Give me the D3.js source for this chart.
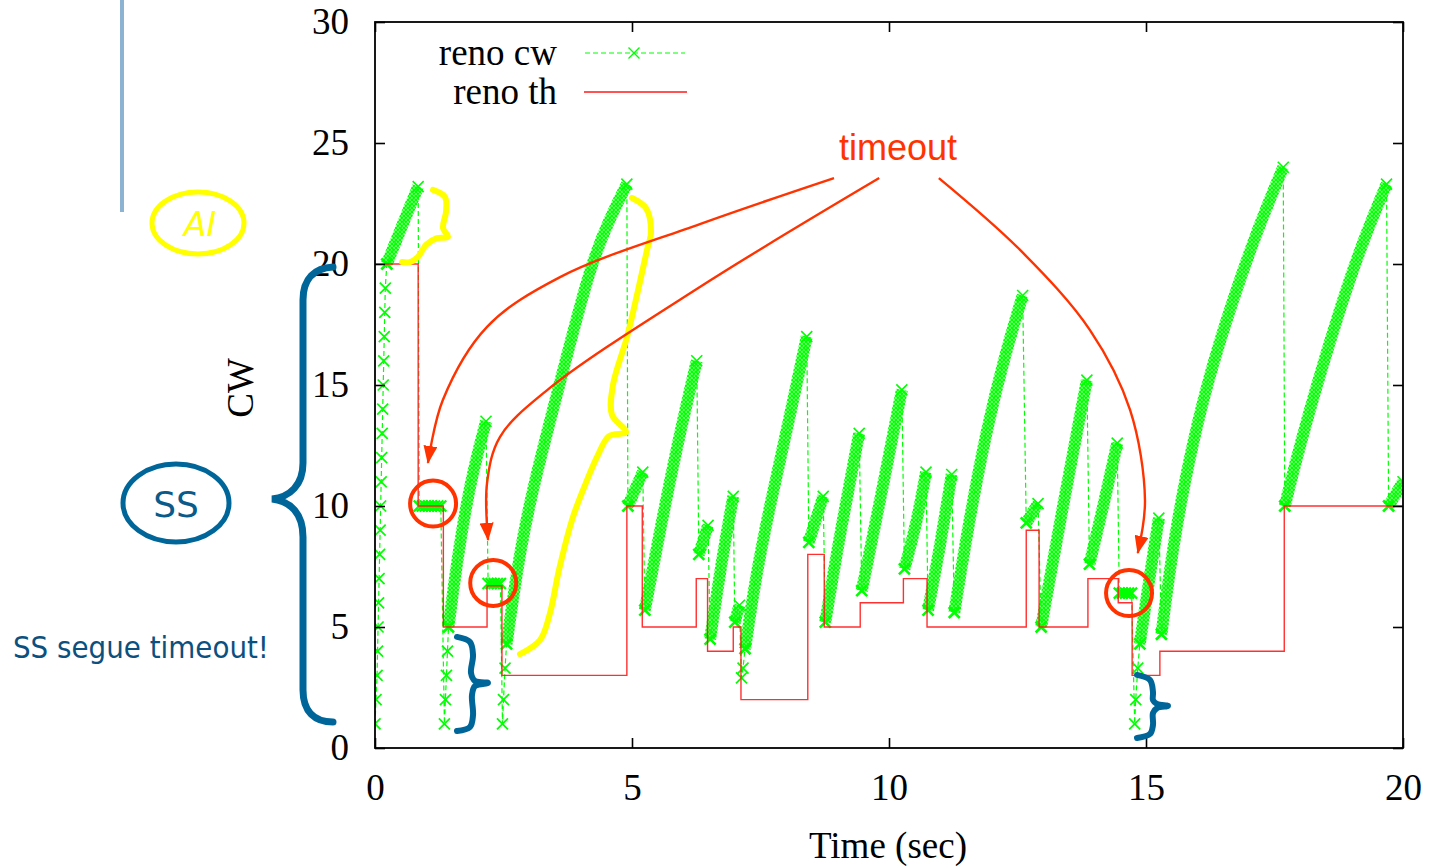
<!DOCTYPE html>
<html>
<head>
<meta charset="utf-8">
<script src="https://cdn.jsdelivr.net/npm/d3@7"></script>
<style>
  html, body { margin: 0; padding: 0; background: #fff; }
  svg { display: block; }
</style>
</head>
<body>
<svg id="chart" width="1431" height="866"></svg>
<script>
// TCP Reno: congestion window (cw) and slow-start threshold (th) over a 20 s run.

// cw samples, one run of the trace per line.
// phase: "s" slow-start sample, "f" window held after a loss, "c" congestion avoidance
const cwTime = [
  0, 0.02, 0.04, 0.05, 0.06, 0.07, 0.08, 0.09, 0.10, 0.11, 0.12, 0.13, 0.14, 0.15, 0.16, 0.17, 0.18, 0.19, 0.20,
  0.23, 0.53, 0.84,
  0.86, 0.92, 0.98, 1.04, 1.10, 1.16, 1.22, 1.28,
  1.35, 1.37, 1.39, 1.41,
  1.43, 1.60, 1.85, 2.16,
  2.20, 2.26, 2.32, 2.38, 2.44,
  2.48, 2.50, 2.53,
  2.56, 2.82, 3.11, 3.60, 4.18, 4.55, 4.90,
  4.92, 5.21,
  5.25, 5.60, 5.95, 6.26,
  6.30, 6.48,
  6.52, 6.75, 6.97,
  7.00, 7.09,
  7.13, 7.16,
  7.20, 7.40, 7.70, 8.05, 8.40,
  8.44, 8.72,
  8.76, 9.05, 9.42,
  9.47, 9.89, 10.25,
  10.30, 10.54, 10.72,
  10.76, 11.00, 11.22,
  11.27, 11.55, 11.90, 12.25, 12.60,
  12.67, 12.90,
  12.96, 13.39, 13.85,
  13.90, 14.16, 14.44,
  14.48, 14.54, 14.60, 14.66, 14.72,
  14.78, 14.80, 14.84,
  14.88, 15.05, 15.25,
  15.30, 15.50, 15.80, 16.20, 16.70, 17.20, 17.67,
  17.70, 18.00, 18.60, 19.15, 19.68,
  19.72, 20.00
];
const cwValue = [
  1, 2, 3, 4, 5, 6, 7, 8, 9, 10, 11, 12, 13, 14, 15, 16, 17, 18, 19,
  20, 21.6, 23.2,
  10, 10, 10, 10, 10, 10, 10, 10,
  1, 2, 3, 4,
  5, 7.8, 11.0, 13.5,
  6.8, 6.8, 6.8, 6.8, 6.8,
  1, 2, 3.3,
  4.3, 8.2, 11.1, 15.1, 19.9, 21.8, 23.3,
  10, 11.4,
  5.7, 9.6, 13.2, 16.0,
  8.0, 9.2,
  4.5, 7.8, 10.4,
  5.2, 5.9,
  2.9, 3.3,
  4.1, 7.0, 10.2, 13.5, 17.0,
  8.5, 10.4,
  5.2, 8.9, 13.0,
  6.5, 10.9, 14.8,
  7.4, 9.3, 11.4,
  5.7, 8.4, 11.3,
  5.6, 9.3, 13.2, 16.2, 18.7,
  9.3, 10.1,
  5.0, 10.1, 15.2,
  7.6, 9.9, 12.6,
  6.4, 6.4, 6.4, 6.4, 6.4,
  1, 2, 3.3,
  4.3, 6.8, 9.5,
  4.7, 8.0, 11.6, 15.2, 18.6, 21.6, 24.0,
  10, 12.6, 17.0, 20.6, 23.3,
  10, 11.0
];
const cwPhase = [
  "s","s","s","s","s","s","s","s","s","s","s","s","s","s","s","s","s","s","s",
  "c","c","c",
  "f","f","f","f","f","f","f","f",
  "s","s","s","s",
  "c","c","c","c",
  "f","f","f","f","f",
  "s","s","s",
  "c","c","c","c","c","c","c",
  "c","c",
  "c","c","c","c",
  "c","c",
  "c","c","c",
  "c","c",
  "s","s",
  "c","c","c","c","c",
  "c","c",
  "c","c","c",
  "c","c","c",
  "c","c","c",
  "c","c","c",
  "c","c","c","c","c",
  "c","c",
  "c","c","c",
  "c","c","c",
  "f","f","f","f","f",
  "s","s","s",
  "c","c","c",
  "c","c","c","c","c","c","c",
  "c","c","c","c","c",
  "c","c"
];

// Slow-start threshold: value held from each time until the next one
const thTime  = [0, 0.84, 1.33, 2.18, 2.47, 4.90, 5.20, 6.25, 6.47, 6.97, 7.12, 8.42, 8.74, 9.44, 10.28, 10.74, 12.67, 12.92, 13.87, 14.46, 14.73, 15.27, 17.69, 20];
const thValue = [20, 10, 5, 6.7, 3, 10, 5, 7, 4, 5, 2, 8, 5, 6, 7, 5, 9, 5, 7, 6, 3, 4, 10, 10];

const xTicks = [0, 5, 10, 15, 20];
const yTicks = [0, 5, 10, 15, 20, 25, 30];
const seriesNames = ["reno cw", "reno th"];

// Timeout events that are circled, and the arrows pointing at them
const timeoutMarks = [[1.13, 10.1], [2.30, 6.82], [14.67, 6.4]];
const arrowPaths = [
  [[8.93, 23.55], [6.32, 21.65], [3.60, 19.46], [2.18, 17.40], [1.32, 14.38], [1.03, 11.78]],
  [[9.81, 23.55], [6.32, 19.05], [3.35, 14.79], [2.43, 12.85], [2.18, 10.95], [2.20, 8.60]],
  [[10.97, 23.55], [12.55, 20.58], [13.91, 17.27], [14.69, 13.97], [14.98, 10.25], [14.84, 8.06]]
];
// Braces grouping the additive-increase runs (yellow) and slow-start runs (blue)
const aiBraces = [
  [[1.128, 23.06], [1.362, 22.77], [1.381, 22.15], [1.323, 21.49], [1.420, 21.12], [1.206, 21.07], [0.992, 20.79], [0.837, 20.29], [0.681, 20.08], [0.525, 20.08]],
  [[5.0, 22.73], [5.272, 22.31], [5.370, 21.32], [5.292, 20.58], [5.097, 18.72], [4.903, 16.98], [4.630, 15.0], [4.611, 13.76], [4.883, 13.06],
   [4.553, 12.89], [4.339, 12.11], [4.125, 11.07], [3.852, 9.55], [3.580, 7.36], [3.405, 5.58], [3.210, 4.46], [2.821, 3.88]]
];
const ssBraces = [
  [[1.595, 4.59], [1.848, 4.38], [1.907, 3.84], [1.868, 3.10], [1.946, 2.77], [2.198, 2.69], [1.946, 2.56], [1.887, 2.19], [1.907, 1.36], [1.848, 0.87], [1.595, 0.70]],
  [[14.825, 3.02], [15.078, 2.81], [15.136, 2.31], [15.136, 1.98], [15.214, 1.82], [15.428, 1.74], [15.214, 1.65], [15.136, 1.45], [15.136, 0.95], [15.078, 0.58], [14.825, 0.41]]
];

const GREEN = "#00ff00", RED = "#ff1a1a", NOTE_RED = "#ff3300", YELLOW = "#ffff00", BLUE = "#006699";
const SERIF = "'Liberation Serif', 'Times New Roman', serif";
const SANS = "'Liberation Sans', Arial, sans-serif";

const svg = d3.select("#chart");
svg.append("rect").attr("width", 1431).attr("height", 866).attr("fill", "#fff");

const margin = { left: 375, right: 28, top: 22, bottom: 118 };
const innerW = 1431 - margin.left - margin.right;
const innerH = 866 - margin.top - margin.bottom;
const x = d3.scaleLinear().domain([0, 20]).range([margin.left, margin.left + innerW]);
const y = d3.scaleLinear().domain([0, 30]).range([margin.top + innerH, margin.top]);

const defs = svg.append("defs");
defs.append("clipPath").attr("id", "plotArea")
  .append("rect").attr("x", margin.left).attr("y", margin.top).attr("width", innerW).attr("height", innerH);

// dense x-marks texture for the congestion-avoidance runs
const hatch = defs.append("pattern").attr("id", "xmarks")
  .attr("patternUnits", "userSpaceOnUse").attr("width", 4).attr("height", 4);
hatch.append("path").attr("d", "M0,0L4,4M4,0L0,4M-1,3L1,5M3,-1L5,1")
  .attr("stroke", GREEN).attr("stroke-width", 1.2);

defs.append("marker").attr("id", "arrowHead")
  .attr("viewBox", "0 0 18 14").attr("refX", 17).attr("refY", 7)
  .attr("markerWidth", 18).attr("markerHeight", 14)
  .attr("markerUnits", "userSpaceOnUse").attr("orient", "auto")
  .append("path").attr("d", "M0,0L18,7L0,14Z").attr("fill", NOTE_RED);

const samples = cwTime.map((t, i) => ({ t, v: cwValue[i], p: cwPhase[i] }));

// split congestion-avoidance samples into runs, breaking at every drop
const bands = [];
let current = null;
samples.forEach((d, i) => {
  const prev = samples[i - 1];
  if (d.p === "c") {
    if (!current || prev.p !== "c" || d.v < prev.v) { current = []; bands.push(current); }
    current.push(d);
  } else {
    current = null;
  }
});

const plotG = svg.append("g").attr("clip-path", "url(#plotArea)");

// cw: dashed connecting line
const cwLine = d3.line().x(d => x(d.t)).y(d => y(d.v));
plotG.append("path").datum(samples)
  .attr("d", cwLine)
  .attr("fill", "none").attr("stroke", GREEN).attr("stroke-width", 1.2)
  .attr("stroke-dasharray", "5,3");

// cw: congestion-avoidance runs as dense bands of marks
const bandLine = d3.line().x(d => x(d.t)).y(d => y(d.v)).curve(d3.curveBasis);
const bandG = plotG.append("g");
bands.forEach(b => {
  bandG.append("path").datum(b).attr("d", bandLine)
    .attr("fill", "none").attr("stroke", "#33ff33").attr("stroke-width", 10).attr("stroke-opacity", 0.6);
  bandG.append("path").datum(b).attr("d", bandLine)
    .attr("fill", "none").attr("stroke", "url(#xmarks)").attr("stroke-width", 12);
});

// cw: x marks
const xMark = s => `M${-s},${-s}L${s},${s}M${-s},${s}L${s},${-s}`;
const markData = [];
samples.forEach(d => { if (d.p !== "c") markData.push({ d, w: d.p === "f" ? 2.2 : 1.7 }); });
bands.forEach(b => {
  markData.push({ d: b[0], w: 2.6 });
  markData.push({ d: b[b.length - 1], w: 1.6 });
});
plotG.append("g").selectAll("path").data(markData).join("path")
  .attr("transform", m => `translate(${x(m.d.t)},${y(m.d.v)})`)
  .attr("d", xMark(5.5))
  .attr("fill", "none").attr("stroke", GREEN).attr("stroke-width", m => m.w);

// th: step line
const thLine = d3.line().x(t => x(t)).y((t, i) => y(thValue[i])).curve(d3.curveStepAfter);
plotG.append("path").datum(thTime).attr("d", thLine)
  .attr("fill", "none").attr("stroke", RED).attr("stroke-width", 1.4).attr("stroke-opacity", 0.9);

// axes with inward ticks on all four sides
const styleAxis = g => {
  g.select(".domain").remove();
  g.selectAll(".tick line").attr("stroke", "#000").attr("stroke-width", 1.6);
  g.selectAll(".tick text").attr("font-family", SERIF).attr("font-size", 37).attr("fill", "#000");
};
svg.append("g").attr("transform", `translate(0,${y(0)})`)
  .call(d3.axisBottom(x).tickValues(xTicks).tickSizeInner(-10).tickSizeOuter(0).tickPadding(26))
  .call(styleAxis);
svg.append("g").attr("transform", `translate(${x(0)},0)`)
  .call(d3.axisLeft(y).tickValues(yTicks).tickSizeInner(-10).tickSizeOuter(0).tickPadding(26))
  .call(styleAxis);
svg.append("g").attr("transform", `translate(0,${y(30)})`)
  .call(d3.axisTop(x).tickValues(xTicks).tickSizeInner(-10).tickSizeOuter(0).tickFormat(""))
  .call(styleAxis);
svg.append("g").attr("transform", `translate(${x(20)},0)`)
  .call(d3.axisRight(y).tickValues(yTicks).tickSizeInner(-10).tickSizeOuter(0).tickFormat(""))
  .call(styleAxis);

svg.append("rect")
  .attr("x", x(0)).attr("y", y(30)).attr("width", x(20) - x(0)).attr("height", y(0) - y(30))
  .attr("fill", "none").attr("stroke", "#000").attr("stroke-width", 1.8);

// axis titles
svg.append("text").attr("x", 888).attr("y", 858).attr("text-anchor", "middle")
  .attr("font-family", SERIF).attr("font-size", 37).text("Time (sec)");
svg.append("text").attr("transform", "translate(253,388) rotate(-90)").attr("text-anchor", "middle")
  .attr("font-family", SERIF).attr("font-size", 37).text("CW");

// legend
const legend = svg.append("g");
legend.append("text").attr("x", 557).attr("y", 65).attr("text-anchor", "end")
  .attr("font-family", SERIF).attr("font-size", 37).text(seriesNames[0]);
legend.append("line").attr("x1", 585).attr("x2", 685).attr("y1", 53).attr("y2", 53)
  .attr("stroke", GREEN).attr("stroke-width", 1.2).attr("stroke-dasharray", "5,3");
legend.append("path").attr("transform", "translate(634,53)").attr("d", xMark(5.5))
  .attr("fill", "none").attr("stroke", GREEN).attr("stroke-width", 1.4);
legend.append("text").attr("x", 557).attr("y", 104).attr("text-anchor", "end")
  .attr("font-family", SERIF).attr("font-size", 37).text(seriesNames[1]);
legend.append("line").attr("x1", 584).attr("x2", 687).attr("y1", 92).attr("y2", 92)
  .attr("stroke", RED).attr("stroke-width", 1.4);

// annotations
const notes = svg.append("g");
const noteLine = d3.line().x(d => x(d[0])).y(d => y(d[1])).curve(d3.curveCatmullRom.alpha(0.5));

aiBraces.forEach(b => notes.append("path").attr("d", noteLine(b))
  .attr("fill", "none").attr("stroke", YELLOW).attr("stroke-width", 6)
  .attr("stroke-linecap", "round").attr("stroke-linejoin", "round"));
ssBraces.forEach(b => notes.append("path").attr("d", noteLine(b))
  .attr("fill", "none").attr("stroke", BLUE).attr("stroke-width", 6)
  .attr("stroke-linecap", "round").attr("stroke-linejoin", "round"));

timeoutMarks.forEach(c => notes.append("circle")
  .attr("cx", x(c[0])).attr("cy", y(c[1])).attr("r", 23)
  .attr("fill", "none").attr("stroke", NOTE_RED).attr("stroke-width", 4));

arrowPaths.forEach(a => notes.append("path").attr("d", noteLine(a))
  .attr("fill", "none").attr("stroke", NOTE_RED).attr("stroke-width", 2.4)
  .attr("marker-end", "url(#arrowHead)"));

notes.append("text").attr("x", 898).attr("y", 160).attr("text-anchor", "middle")
  .attr("font-family", SANS).attr("font-size", 36).attr("fill", NOTE_RED).text("timeout");

// left-hand side notes
notes.append("line").attr("x1", 122).attr("x2", 122).attr("y1", 0).attr("y2", 212)
  .attr("stroke", "#8db3d3").attr("stroke-width", 4);

notes.append("ellipse").attr("cx", 198).attr("cy", 223).attr("rx", 46).attr("ry", 31)
  .attr("fill", "none").attr("stroke", YELLOW).attr("stroke-width", 5);
notes.append("text").attr("x", 200).attr("y", 236).attr("text-anchor", "middle")
  .attr("font-family", "'DejaVu Sans', sans-serif").attr("font-size", 33).attr("font-style", "oblique")
  .attr("fill", YELLOW).text("AI");

notes.append("path")
  .attr("d", "M333,267C315,268 303,278 303,300L303,463C303,485 290,497 272,499C290,501 303,513 303,537L303,690C303,712 315,722 333,722")
  .attr("fill", "none").attr("stroke", BLUE).attr("stroke-width", 7).attr("stroke-linecap", "round");

notes.append("ellipse").attr("cx", 176).attr("cy", 503).attr("rx", 53).attr("ry", 39)
  .attr("fill", "none").attr("stroke", BLUE).attr("stroke-width", 5);
notes.append("text").attr("x", 176).attr("y", 517).attr("text-anchor", "middle")
  .attr("font-family", "'DejaVu Sans', sans-serif").attr("font-size", 36).attr("fill", "#0a5a8a").text("SS");

notes.append("text").attr("x", 13).attr("y", 658)
  .attr("font-family", "'DejaVu Sans', sans-serif").attr("font-size", 31)
  .attr("textLength", 256).attr("lengthAdjust", "spacingAndGlyphs")
  .attr("fill", "#0b507e").text("SS segue timeout!");
</script>
</body>
</html>
